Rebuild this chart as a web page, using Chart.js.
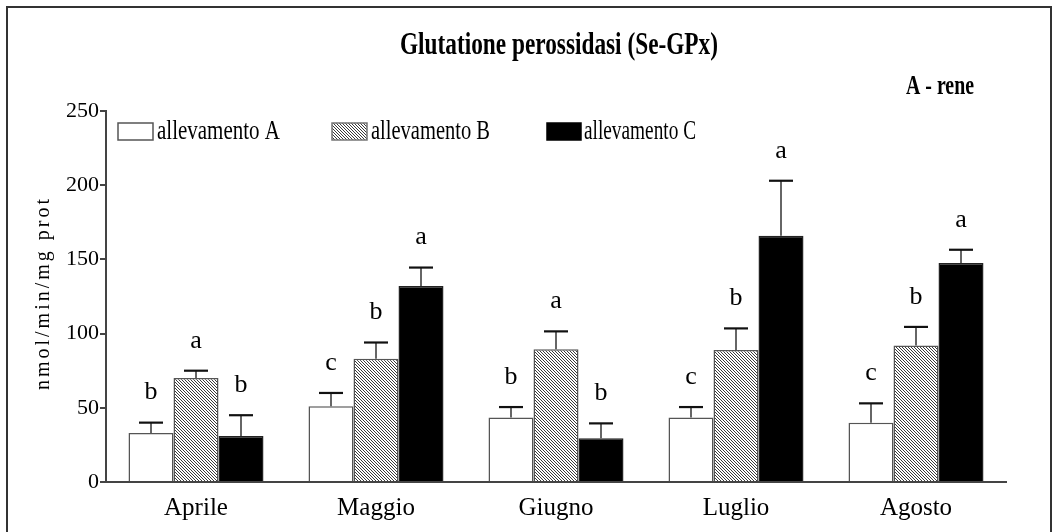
<!DOCTYPE html>
<html><head><meta charset="utf-8">
<script src="https://cdn.jsdelivr.net/npm/chart.js@4.4.0/dist/chart.umd.min.js"></script>
<style>html,body{margin:0;padding:0;background:#fff}#wrap{width:1060px;height:532px}</style>
</head><body><div id="wrap"><canvas id="c" width="1060" height="532"></canvas></div>
<script>
// ---- data ----
const categories = ['Aprile', 'Maggio', 'Giugno', 'Luglio', 'Agosto'];
const seriesNames = ['allevamento A', 'allevamento B', 'allevamento C'];
const valuesA = [33, 51, 43.5, 43.5, 40];
const valuesB = [70, 83, 89.5, 89, 92];
const valuesC = [31, 132, 29.5, 166, 147.5];
const errA = [7, 9, 7, 7, 13];
const errB = [5, 11, 12, 14.5, 12.5];
const errC = [14, 12.5, 10, 37, 9];
const lettersA = ['b', 'c', 'b', 'c', 'c'];
const lettersB = ['a', 'b', 'a', 'b', 'b'];
const lettersC = ['b', 'a', 'b', 'a', 'a'];
const yTicks = [0, 50, 100, 150, 200, 250];
const titleText = 'Glutatione perossidasi (Se-GPx)';
const subtitleText = 'A - rene';
const yTitleText = 'nmol/min/mg prot';

const errs = [errA, errB, errC];
const letters = [lettersA, lettersB, lettersC];
const SERIF = '"Liberation Serif", "DejaVu Serif", serif';

// hatch pattern
function makeHatch() {
  const p = document.createElement('canvas');
  p.width = 3; p.height = 3;
  const g = p.getContext('2d');
  g.fillStyle = '#fff'; g.fillRect(0, 0, 3, 3);
  g.fillStyle = '#3a3a3a';
  for (let i = 0; i < 3; i++) { g.fillRect(i, i, 1, 1); }
  return g.createPattern(p, 'repeat');
}
const ctx0 = document.getElementById('c').getContext('2d');
const hatch = makeHatch();

function drawCondensed(ctx, txt, cx, cy, font, targetW, align) {
  ctx.save();
  ctx.font = font;
  ctx.textBaseline = 'middle';
  ctx.textAlign = 'left';
  const w = ctx.measureText(txt).width;
  const s = targetW / w;
  let x0 = align === 'left' ? cx : cx - targetW / 2;
  ctx.translate(x0, cy);
  ctx.scale(s, 1);
  ctx.fillStyle = '#000';
  ctx.fillText(txt, 0, 0);
  ctx.restore();
}

const decor = {
  id: 'decor',
  afterDatasetsDraw(chart) {
    const ctx = chart.ctx;
    const y = chart.scales.y;
    chart.data.datasets.forEach((ds, di) => {
      const meta = chart.getDatasetMeta(di);
      meta.data.forEach((bar, i) => {
        const v = ds.data[i];
        const top = y.getPixelForValue(v + errs[di][i]);
        ctx.save();
        ctx.strokeStyle = '#333';
        ctx.lineWidth = 1.5;
        ctx.beginPath();
        ctx.moveTo(bar.x, bar.y);
        ctx.lineTo(bar.x, top);
        ctx.stroke();
        ctx.strokeStyle = '#111';
        ctx.lineWidth = 2.2;
        ctx.beginPath();
        ctx.moveTo(bar.x - 12, top);
        ctx.lineTo(bar.x + 12, top);
        ctx.stroke();
        ctx.fillStyle = '#000';
        ctx.font = '26px ' + SERIF;
        ctx.textAlign = 'center';
        ctx.textBaseline = 'middle';
        ctx.fillText(letters[di][i], bar.x, top - 30);
        ctx.restore();
      });
    });
  },
  afterDraw(chart) {
    const ctx = chart.ctx;
    // frame
    ctx.save();
    ctx.strokeStyle = '#333';
    ctx.lineWidth = 2;
    ctx.strokeRect(7, 7, 1044, 560);
    ctx.restore();
    // title & subtitle
    drawCondensed(ctx, titleText, 559, 46, 'bold 31px ' + SERIF, 318);
    drawCondensed(ctx, subtitleText, 940, 87, 'bold 28px ' + SERIF, 68);
    // legend
    const items = [
      { box: [118, 123, 35, 17], fill: '#fff', stroke: '#555', tx: 157, tw: 123 },
      { box: [332, 123, 35, 17], fill: hatch, stroke: '#777', tx: 371, tw: 119 },
      { box: [547, 123, 34, 17], fill: '#000', stroke: '#000', tx: 584, tw: 112 }
    ];
    items.forEach((it, k) => {
      ctx.save();
      ctx.fillStyle = it.fill;
      ctx.fillRect(...it.box);
      ctx.strokeStyle = it.stroke;
      ctx.lineWidth = 1.5;
      ctx.strokeRect(...it.box);
      ctx.restore();
      drawCondensed(ctx, seriesNames[k], it.tx, 132, '27px ' + SERIF, it.tw, 'left');
    });
    // y title
    ctx.save();
    ctx.translate(44, 293);
    ctx.rotate(-Math.PI / 2);
    ctx.font = '20px ' + SERIF;
    try { ctx.letterSpacing = '3px'; } catch (e) {}
    ctx.textAlign = 'center';
    ctx.textBaseline = 'middle';
    ctx.fillStyle = '#000';
    ctx.fillText(yTitleText, 0, 0);
    ctx.restore();
  }
};

new Chart(ctx0, {
  type: 'bar',
  data: {
    labels: categories,
    datasets: [
      { label: seriesNames[0], data: valuesA, backgroundColor: '#fff', borderColor: '#555', borderWidth: 1.5 },
      { label: seriesNames[1], data: valuesB, backgroundColor: hatch, borderColor: '#555', borderWidth: 1.5 },
      { label: seriesNames[2], data: valuesC, backgroundColor: '#000', borderColor: '#222', borderWidth: 1.5 }
    ]
  },
  options: {
    responsive: false,
    animation: false,
    layout: { padding: { top: 111, right: 54, left: 0, bottom: 0 } },
    plugins: { legend: { display: false }, title: { display: false }, tooltip: { enabled: false } },
    datasets: { bar: { categoryPercentage: 0.75, barPercentage: 1.0 } },
    scales: {
      x: {
        grid: { display: false, drawTicks: false },
        border: { display: true, color: '#444', width: 2 },
        ticks: { color: '#000', font: { family: SERIF, size: 25 }, padding: 11 },
        afterFit(s) { s.height = 50; }
      },
      y: {
        min: 0, max: 250,
        afterBuildTicks(s) { s.ticks = yTicks.map(v => ({ value: v })); },
        grid: { display: true, drawOnChartArea: false, drawTicks: true, tickLength: 6, color: '#444', lineWidth: 2 },
        border: { display: true, color: '#444', width: 2 },
        ticks: { color: '#000', font: { family: SERIF, size: 22 }, padding: 1 },
        afterFit(s) { s.width = 106; }
      }
    }
  },
  plugins: [decor]
});
</script>
</body></html>
